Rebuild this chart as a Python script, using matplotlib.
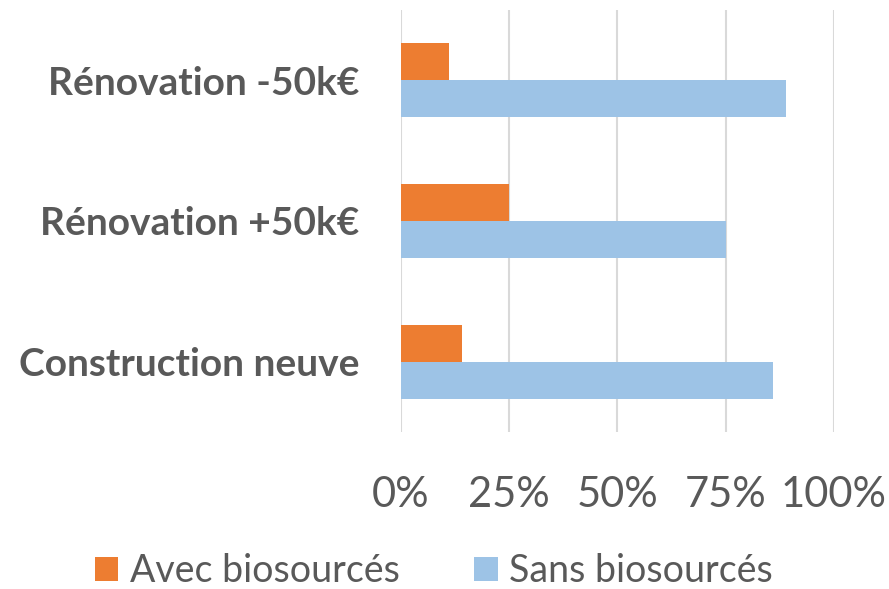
import matplotlib.pyplot as plt
import numpy as np

# data (bottom to top)
categories = ["Construction neuve", "Rénovation +50k€", "Rénovation -50k€"]
avec = [14, 25, 11]
sans = [86, 75, 89]
xticks = [0, 25, 50, 75, 100]
xlabels = ["0%", "25%", "50%", "75%", "100%"]

plt.rcParams["font.family"] = ["Lato", "DejaVu Sans"]

fig = plt.figure(figsize=(8.89, 5.89), dpi=100)
ax = fig.add_axes([0.451, 0.2666, 0.487, 0.7164])

y = np.arange(len(categories))
h = 0.263

ax.barh(y + h / 2, avec, height=h, color="#ED7D31", label="Avec biosourcés", zorder=3)
ax.barh(y - h / 2, sans, height=h, color="#9DC3E6", label="Sans biosourcés", zorder=3)

ax.set_xlim(0, 100)
ax.set_ylim(-0.5, 2.5)
ax.set_xticks(xticks)
ax.set_xticklabels(xlabels, fontsize=30, color="#595959")
ax.set_yticks(y)
ax.set_yticklabels(categories, fontsize=28, fontweight="bold", color="#595959")
ax.tick_params(axis="x", length=0, pad=32)
ax.tick_params(axis="y", length=0, pad=30)

ax.grid(axis="x", color="#D9D9D9", linewidth=1.5, zorder=0)
for s in ax.spines.values():
    s.set_visible(False)

fig.legend(
    loc="lower center",
    bbox_to_anchor=(0.488, -0.042),
    ncol=2,
    frameon=False,
    fontsize=27,
    labelcolor="#595959",
    handlelength=0.62,
    handleheight=0.62,
    handletextpad=0.3,
    columnspacing=2.0,
    borderpad=0.15,
)

plt.savefig("out.png", dpi=100)
plt.close(fig)
